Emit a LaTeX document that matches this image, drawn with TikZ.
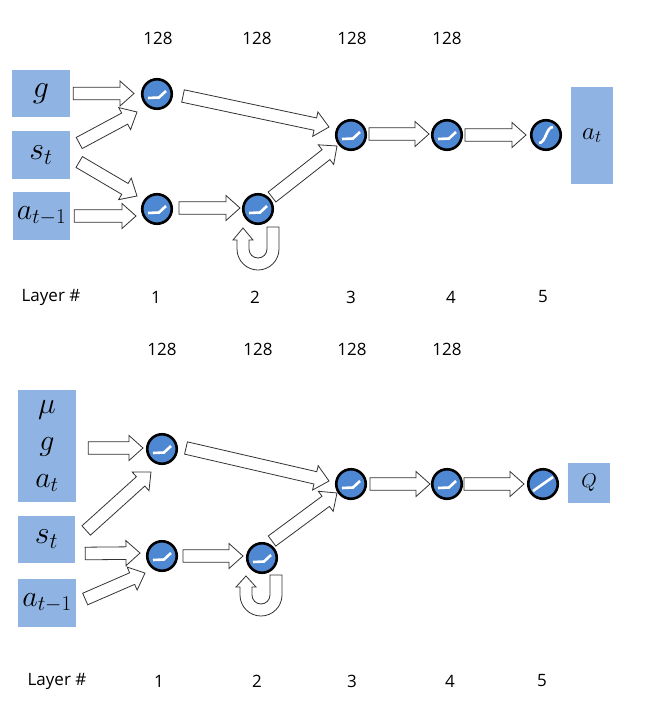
\RequirePackage{fix-cm}
\documentclass[tikz,border=0pt]{standalone}
\usepackage{fontspec}
\setmainfont{Open Sans}
\usepackage{amsmath}
\usepackage{tikz}
\usetikzlibrary{calc}

\definecolor{boxblue}{HTML}{8FB4E3}
\definecolor{unitblue}{HTML}{4F88D2}

\tikzset{
  blockarrow/.style={draw=black!80, fill=white, line width=.8pt, to path={
    -- ($(\tikztostart)!6.3pt!90:(\tikztotarget)$)
    -- ($(\tikztotarget)!14pt!(\tikztostart)!6.3pt!90:(\tikztotarget)$)
    -- ($(\tikztotarget)!14pt!(\tikztostart)!12.5pt!90:(\tikztotarget)$)
    -- (\tikztotarget)
    -- ($(\tikztotarget)!14pt!(\tikztostart)!12.5pt!-90:(\tikztotarget)$)
    -- ($(\tikztotarget)!14pt!(\tikztostart)!6.3pt!-90:(\tikztotarget)$)
    -- ($(\tikztostart)!6.3pt!-90:(\tikztotarget)$)
    -- cycle}}
}

\begin{document}
\begin{tikzpicture}[x=1pt, y=-1pt]

\tikzstyle{inputbox} = [rectangle, fill=boxblue, inner sep=0pt, font=\fontsize{32}{32}\selectfont]
\tikzstyle{outputbox} = [rectangle, fill=boxblue, inner sep=0pt, font=\fontsize{25}{25}\selectfont]
\tikzstyle{unit} = [circle, draw=black, line width=2.6pt, fill=unitblue, inner sep=0pt, minimum size=29.5pt]
\tikzstyle{curve} = [white, line width=2.6pt, shift={(path picture bounding box.center)}]
\tikzstyle{relu} = [unit, path picture={\draw[curve] (-9,4) -- (2,3.5) -- (9,-3);}]
\tikzstyle{tanhunit} = [unit, path picture={\draw[curve] (-7,8) .. controls (0,8) and (0,-8) .. (7,-8);}]
\tikzstyle{linunit} = [unit, path picture={\draw[curve] (-10,7) -- (10,-7);}]
\tikzstyle{lab} = [inner sep=0pt, font=\fontsize{17}{17}\selectfont]

\useasboundingbox (0,0) rectangle (661,707);

% actor
\node[inputbox, minimum width=58pt, minimum height=47pt] (g) at (41,93.5) {$g$\hspace{12pt}};
\node[inputbox, minimum width=58pt, minimum height=48pt] (s) at (41,155) {$s_t$\hspace{6pt}};
\node[inputbox, minimum width=57pt, minimum height=48pt, font=\fontsize{30}{30}\selectfont] (a) at (41.5,216) {$a_{t-1}$};
\node[outputbox, minimum width=42pt, minimum height=97pt] (out) at (592,135.5) {$a_t$};

\node[relu] (u1) at (157,94) {};
\node[relu] (v1) at (157,209) {};
\node[relu] (v2) at (258,209) {};
\node[relu] (u3) at (351,135) {};
\node[relu] (u4) at (447,135) {};
\node[tanhunit] (u5) at (546,135) {};

\draw[blockarrow] ([shift={(3,0)}]g.east) to ([shift={(-23,-.5)}]u1.center);
\draw[blockarrow] ([shift={(9,-12)}]s.east) to ([shift={(-20,18)}]u1.center);
\draw[blockarrow] ([shift={(9,7)}]s.east) to ([shift={(-20,-13)}]v1.center);
\draw[blockarrow] ([shift={(4,0)}]a.east) to ([shift={(-21,7)}]v1.center);
\draw[blockarrow] ([shift={(22,-1)}]v1.center) to ([shift={(-18,-1)}]v2.center);
\draw[blockarrow] ([shift={(26,2)}]u1.center) to ([shift={(-22,-8)}]u3.center);
\draw[blockarrow] ([shift={(14,-12)}]v2.center) to ([shift={(-14,11)}]u3.center);
\draw[blockarrow] ([shift={(18,-1)}]u3.center) to ([shift={(-18,-1)}]u4.center);
\draw[blockarrow] ([shift={(18,0)}]u4.center) to ([shift={(-20,0)}]u5.center);
\draw[blockarrow] ([shift={(9,18)}]v2.center) -- ++(12,0) -- ++(0,22) arc[start angle=0, end angle=-180, radius=21pt]
  -- ++(0,-9) -- ++(-4,0) -- ++(10,-12) -- ++(10,12) -- ++(-4,0) -- ++(0,9) arc[start angle=180, end angle=360, radius=9pt] -- cycle;

\node[lab] (w1) at (158,38) {128};
\node[lab] (w2) at (257,38) {128};
\node[lab] (w3) at (352,38) {128};
\node[lab] (w4) at (447,38) {128};

\node[lab] (layer) at (51,297) {Layer \#};
\node[lab] (n1) at (156,297) {1};
\node[lab] (n2) at (255,297) {2};
\node[lab] (n3) at (351,297) {3};
\node[lab] (n4) at (451,297) {4};
\node[lab] (n5) at (543,297) {5};

% critic
\node[inputbox, minimum width=58pt, minimum height=112pt, align=center, font=\fontsize{30}{37}\selectfont] (m) at (47,446) {$\mu$\\$g$\\$a_t$};
\node[inputbox, minimum width=57pt, minimum height=47pt] (cs) at (46.5,539.5) {$s_t$};
\node[inputbox, minimum width=58pt, minimum height=48pt, font=\fontsize{30}{30}\selectfont] (ca) at (47,603) {$a_{t-1}$};
\node[outputbox, minimum width=42pt, minimum height=40pt, font=\fontsize{20}{20}\selectfont] (q) at (589,483) {$Q$};

\node[relu] (p1) at (162,449) {};
\node[relu] (q1) at (162,556) {};
\node[relu] (q2) at (262,558) {};
\node[relu] (p3) at (351,484) {};
\node[relu] (p4) at (447,484) {};
\node[linunit] (p5) at (543,484) {};

\draw[blockarrow] ([shift={(12,2)}]m.east) to ([shift={(-19,-1)}]p1.center);
\draw[blockarrow] ([shift={(11,-9)}]cs.east) to ([shift={(-11,23)}]p1.center);
\draw[blockarrow] ([shift={(10,14)}]cs.east) to ([shift={(-22,-3)}]q1.center);
\draw[blockarrow] ([shift={(9,-4)}]ca.east) to ([shift={(-17,17)}]q1.center);
\draw[blockarrow] ([shift={(21,0)}]q1.center) to ([shift={(-19,-2)}]q2.center);
\draw[blockarrow] ([shift={(24,-1)}]p1.center) to ([shift={(-22,-3)}]p3.center);
\draw[blockarrow] ([shift={(10,-17)}]q2.center) to ([shift={(-14,9)}]p3.center);
\draw[blockarrow] ([shift={(19,0)}]p3.center) to ([shift={(-17,0)}]p4.center);
\draw[blockarrow] ([shift={(17,0)}]p4.center) to ([shift={(-19,0)}]p5.center);
\draw[blockarrow] ([shift={(8,17)}]q2.center) -- ++(12,0) -- ++(0,20) arc[start angle=0, end angle=-180, radius=21pt]
  -- ++(0,-8) -- ++(-4,0) -- ++(10,-11) -- ++(10,11) -- ++(-4,0) -- ++(0,8) arc[start angle=180, end angle=360, radius=9pt] -- cycle;

\node[lab] (cw1) at (162,349) {128};
\node[lab] (cw2) at (258,349) {128};
\node[lab] (cw3) at (352,349) {128};
\node[lab] (cw4) at (447,349) {128};

\node[lab] (clayer) at (57,681) {Layer \#};
\node[lab] (c1) at (159,681) {1};
\node[lab] (c2) at (257,681) {2};
\node[lab] (c3) at (352,681) {3};
\node[lab] (c4) at (450,681) {4};
\node[lab] (c5) at (542,681) {5};

\end{tikzpicture}
\end{document}
